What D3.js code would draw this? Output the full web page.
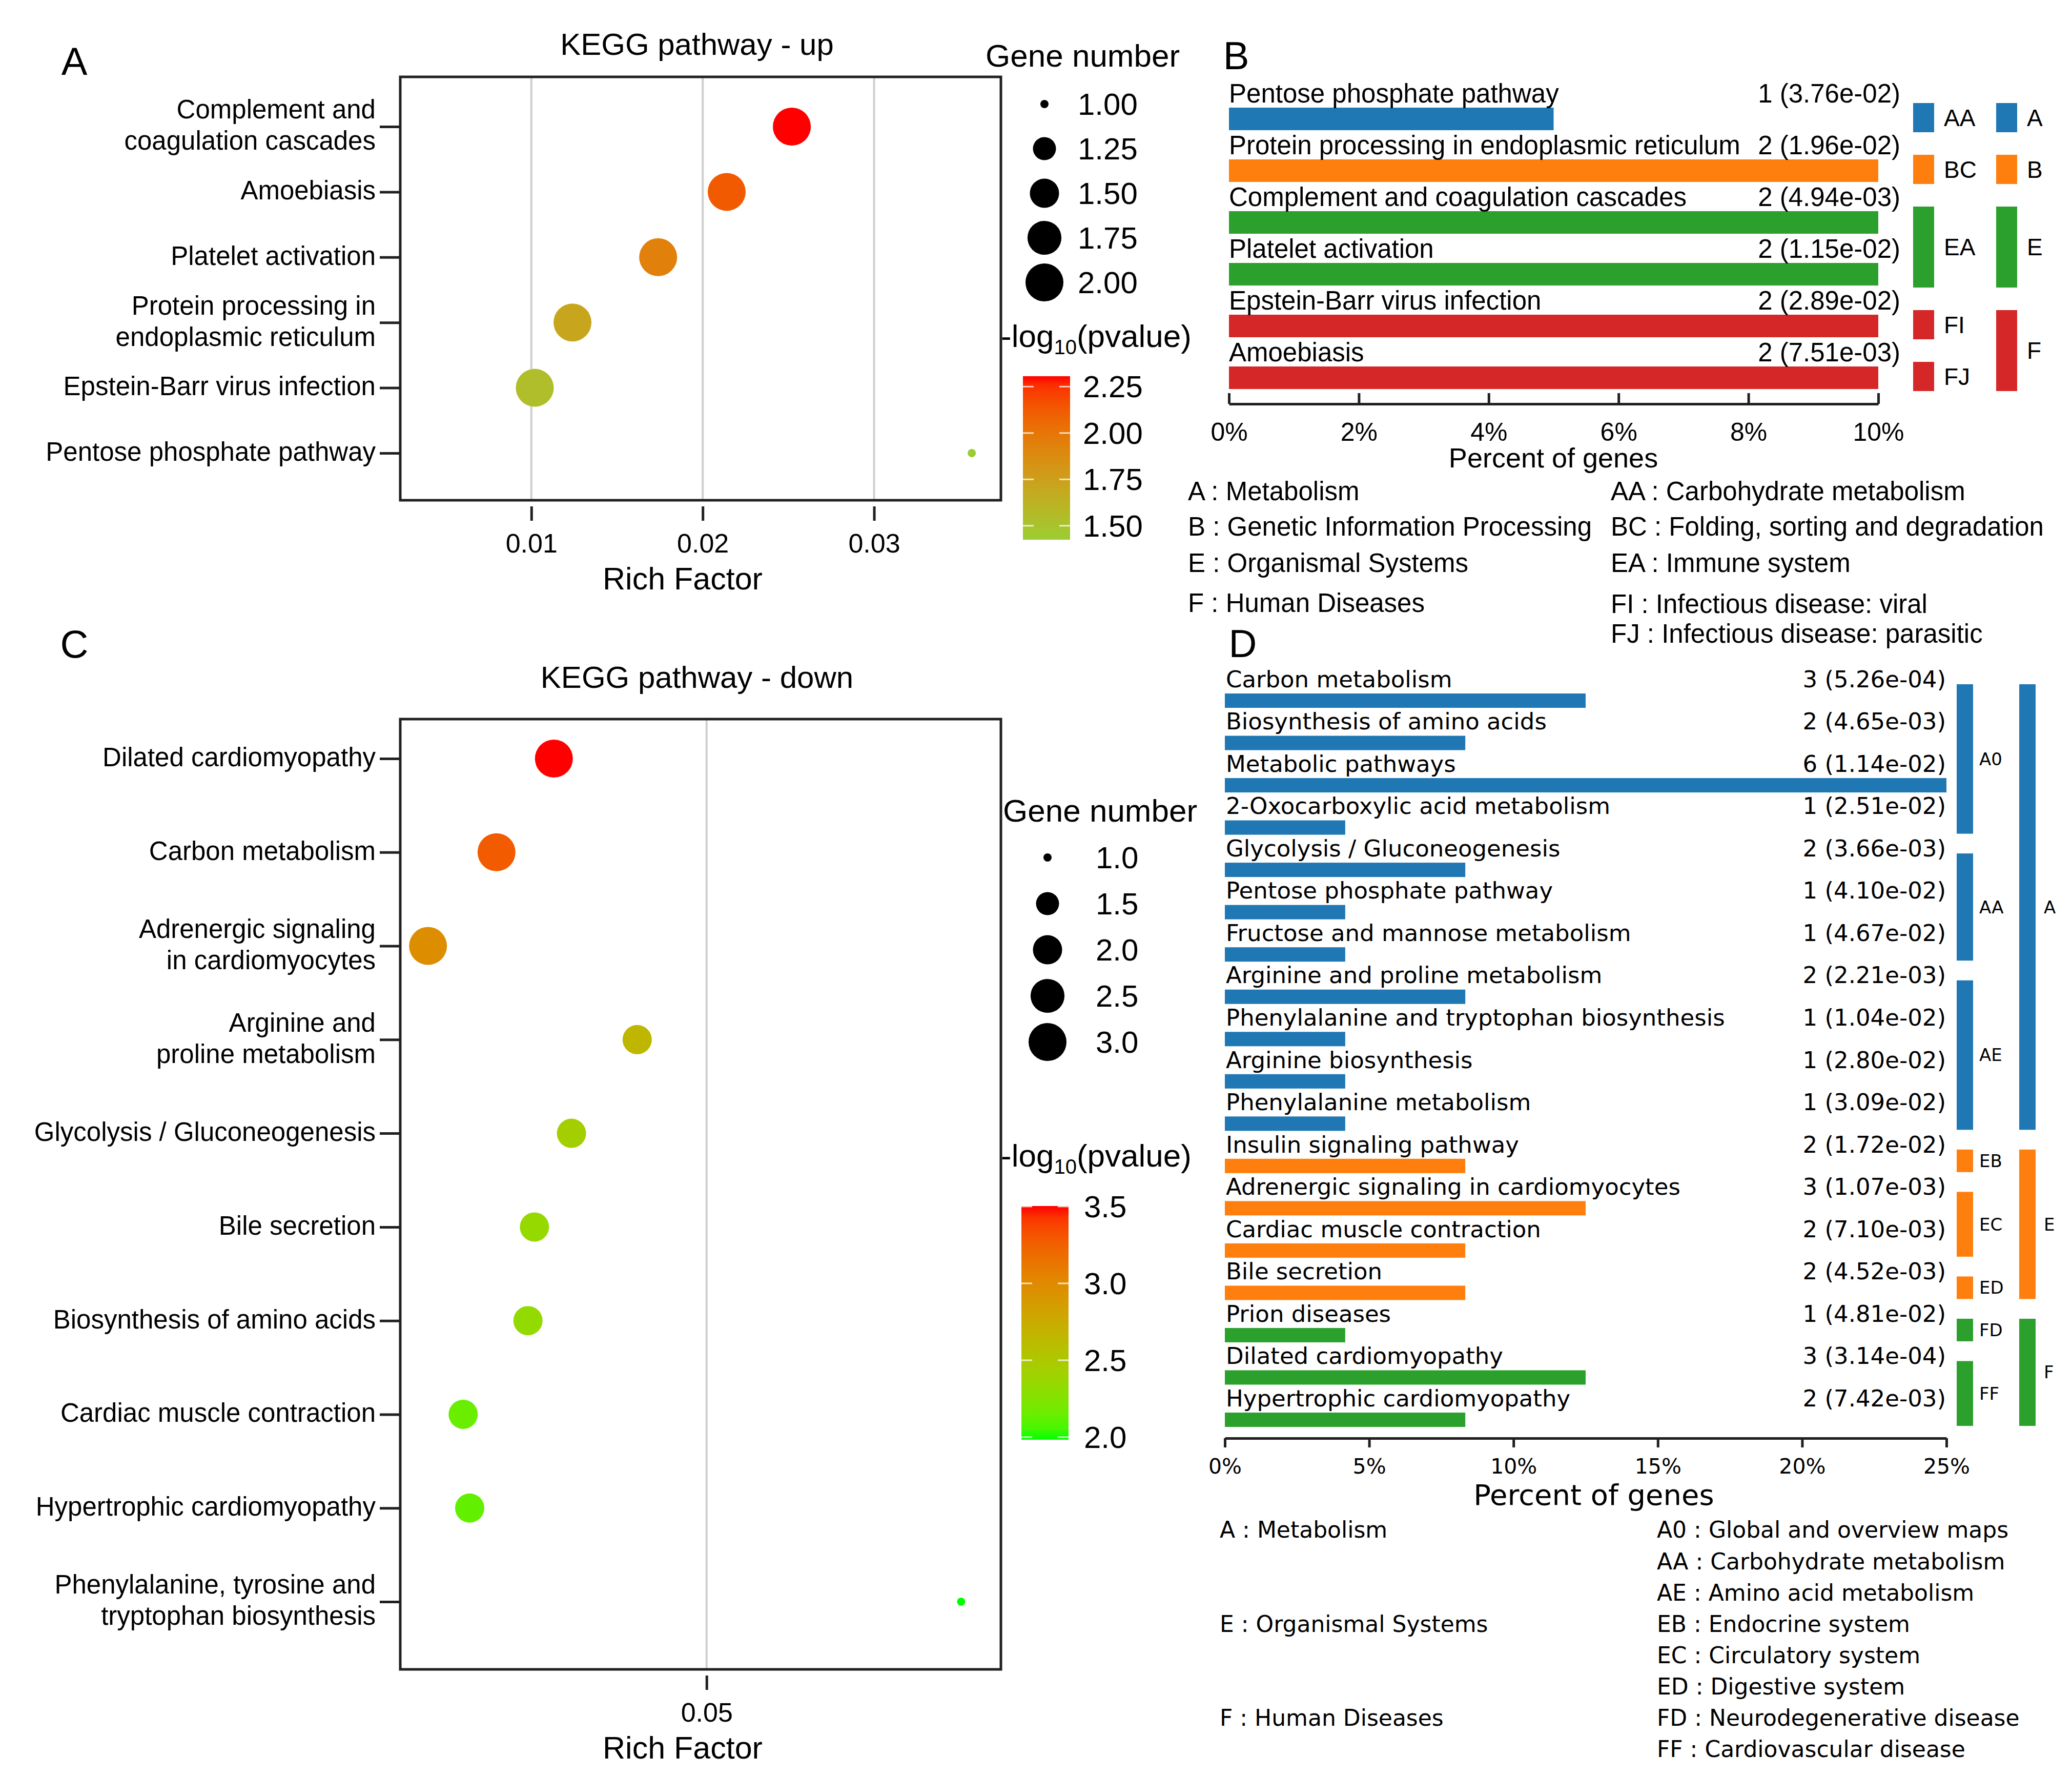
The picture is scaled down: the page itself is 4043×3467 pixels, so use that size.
<!DOCTYPE html>
<html><head><meta charset="utf-8">
<script src="https://cdn.jsdelivr.net/npm/d3@7"></script>
<style>body{margin:0;background:#fff} svg{display:block}</style>
</head><body>
<svg id="chart" width="4043" height="3467"></svg>
<script>
// ================= DATA =================
// Panel A : KEGG pathway - up (bubble plot)
const upPathways = ["Complement and coagulation cascades", "Amoebiasis", "Platelet activation",
  "Protein processing in endoplasmic reticulum", "Epstein-Barr virus infection", "Pentose phosphate pathway"];
const upLabelLines = [["Complement and", "coagulation cascades"], ["Amoebiasis"], ["Platelet activation"],
  ["Protein processing in", "endoplasmic reticulum"], ["Epstein-Barr virus infection"], ["Pentose phosphate pathway"]];
const upRichFactor = [0.0252, 0.0214, 0.0174, 0.0124, 0.0102, 0.0357];
const upGeneNumber = [2, 2, 2, 2, 2, 1];
const upPValue = [4.94e-3, 7.51e-3, 1.15e-2, 1.96e-2, 2.89e-2, 3.76e-2];
const upRichTicks = [0.01, 0.02, 0.03];
const upSizeLegend = [1.00, 1.25, 1.50, 1.75, 2.00];
const upColorTicks = [1.50, 1.75, 2.00, 2.25];

// Panel C : KEGG pathway - down (bubble plot)
const downPathways = ["Dilated cardiomyopathy", "Carbon metabolism", "Adrenergic signaling in cardiomyocytes",
  "Arginine and proline metabolism", "Glycolysis / Gluconeogenesis", "Bile secretion",
  "Biosynthesis of amino acids", "Cardiac muscle contraction", "Hypertrophic cardiomyopathy",
  "Phenylalanine, tyrosine and tryptophan biosynthesis"];
const downLabelLines = [["Dilated cardiomyopathy"], ["Carbon metabolism"], ["Adrenergic signaling", "in cardiomyocytes"],
  ["Arginine and", "proline metabolism"], ["Glycolysis / Gluconeogenesis"], ["Bile secretion"],
  ["Biosynthesis of amino acids"], ["Cardiac muscle contraction"], ["Hypertrophic cardiomyopathy"],
  ["Phenylalanine, tyrosine and", "tryptophan biosynthesis"]];
const downRichFactor = [0.0335, 0.0273, 0.0199, 0.0425, 0.0354, 0.0314, 0.0307, 0.0237, 0.0244, 0.0775];
const downGeneNumber = [3, 3, 3, 2, 2, 2, 2, 2, 2, 1];
const downPValue = [3.14e-4, 5.26e-4, 1.07e-3, 2.21e-3, 3.66e-3, 4.52e-3, 4.65e-3, 7.10e-3, 7.42e-3, 1.04e-2];
const downRichTicks = [0.05];
const downSizeLegend = [1.0, 1.5, 2.0, 2.5, 3.0];
const downColorTicks = [2.0, 2.5, 3.0, 3.5];

// Panel B : classification of up pathways
const bPathways = ["Pentose phosphate pathway", "Protein processing in endoplasmic reticulum",
  "Complement and coagulation cascades", "Platelet activation", "Epstein-Barr virus infection", "Amoebiasis"];
const bGenes = [1, 2, 2, 2, 2, 2];
const bPercent = [5, 10, 10, 10, 10, 10];
const bPLabel = ["3.76e-02", "1.96e-02", "4.94e-03", "1.15e-02", "2.89e-02", "7.51e-03"];
const bLevel1 = ["A", "B", "E", "E", "F", "F"];
const bLevel2 = ["AA", "BC", "EA", "EA", "FI", "FJ"];
const bTicks = [0, 2, 4, 6, 8, 10];
const bLegendLeft = ["A : Metabolism", "B : Genetic Information Processing", "E : Organismal Systems", "F : Human Diseases"];
const bLegendRight = ["AA : Carbohydrate metabolism", "BC : Folding, sorting and degradation", "EA : Immune system",
  "FI : Infectious disease: viral", "FJ : Infectious disease: parasitic"];

// Panel D : classification of down pathways
const dPathways = ["Carbon metabolism", "Biosynthesis of amino acids", "Metabolic pathways",
  "2-Oxocarboxylic acid metabolism", "Glycolysis / Gluconeogenesis", "Pentose phosphate pathway",
  "Fructose and mannose metabolism", "Arginine and proline metabolism", "Phenylalanine and tryptophan biosynthesis",
  "Arginine biosynthesis", "Phenylalanine metabolism", "Insulin signaling pathway",
  "Adrenergic signaling in cardiomyocytes", "Cardiac muscle contraction", "Bile secretion", "Prion diseases",
  "Dilated cardiomyopathy", "Hypertrophic cardiomyopathy"];
const dGenes = [3, 2, 6, 1, 2, 1, 1, 2, 1, 1, 1, 2, 3, 2, 2, 1, 3, 2];
const dPercent = [12.5, 8.33, 25, 4.17, 8.33, 4.17, 4.17, 8.33, 4.17, 4.17, 4.17, 8.33, 12.5, 8.33, 8.33, 4.17, 12.5, 8.33];
const dPLabel = ["5.26e-04", "4.65e-03", "1.14e-02", "2.51e-02", "3.66e-03", "4.10e-02", "4.67e-02", "2.21e-03",
  "1.04e-02", "2.80e-02", "3.09e-02", "1.72e-02", "1.07e-03", "7.10e-03", "4.52e-03", "4.81e-02", "3.14e-04", "7.42e-03"];
const dLevel1 = ["A","A","A","A","A","A","A","A","A","A","A","E","E","E","E","F","F","F"];
const dLevel2 = ["A0","A0","A0","A0","AA","AA","AA","AE","AE","AE","AE","EB","EC","EC","ED","FD","FF","FF"];
const dTicks = [0, 5, 10, 15, 20, 25];
const dLegendLeft = ["A : Metabolism", "E : Organismal Systems", "F : Human Diseases"];
const dLegendRight = ["A0 : Global and overview maps", "AA : Carbohydrate metabolism", "AE : Amino acid metabolism",
  "EB : Endocrine system", "EC : Circulatory system", "ED : Digestive system",
  "FD : Neurodegenerative disease", "FF : Cardiovascular disease"];

// ================= STYLE / LAYOUT =================
const FONT = "'Liberation Sans', Arial, Helvetica, sans-serif";
const FONT_D = "'DejaVu Sans', Verdana, sans-serif";
const INK = "#231f20";
const L = { boxX0: 781, boxX1: 1953, rMin: 8, rMax: 37 };

const svg = d3.select("#chart");
svg.append("rect").attr("width", 4043).attr("height", 3467).attr("fill", "#fff");
const defs = svg.append("defs");

function txt(g, x, y, s, size, opts = {}) {
  return g.append("text").attr("x", x).attr("y", y).attr("dy", "0.35em")
    .attr("font-size", size).attr("font-family", opts.family || FONT)
    .attr("text-anchor", opts.anchor || "start").attr("fill", "#000").text(s);
}

function runs(arr) {
  const out = [];
  arr.forEach((v, i) => {
    if (out.length && out[out.length - 1].key === v) out[out.length - 1].end = i;
    else out.push({ key: v, start: i, end: i });
  });
  return out;
}

// ---------- bubble panel ----------
function dotPanel(o) {
  const g = svg.append("g");
  const x = d3.scaleLinear().domain(o.xDomain).range([L.boxX0, L.boxX1]);
  const y = d3.scalePoint().domain(o.names).range(o.yRange);
  const nl = o.pvals.map(p => -Math.log10(p));
  const cDom = d3.extent(nl);
  const color = d3.scaleLinear().domain(cDom).range([o.lowColor, "#ff0000"]).interpolate(d3.interpolateLab);
  const tScale = d3.scaleLinear().domain(d3.extent(o.genes)).range([0, 1]);
  const rad = v => L.rMin + (L.rMax - L.rMin) * Math.sqrt(Math.max(0, tScale(v)));

  // title
  txt(g, 1360, o.titleY, o.title, 60, { anchor: "middle" });

  // grid
  g.append("g").selectAll("line").data(o.xTicks).join("line")
    .attr("x1", d => x(d)).attr("x2", d => x(d)).attr("y1", o.boxY0).attr("y2", o.boxY1)
    .attr("stroke", "#cfcfcf").attr("stroke-width", 4);

  // points
  g.append("g").selectAll("circle").data(o.names).join("circle")
    .attr("cx", (d, i) => x(o.rich[i])).attr("cy", d => y(d))
    .attr("r", (d, i) => rad(o.genes[i])).attr("fill", (d, i) => color(nl[i]));

  // box
  g.append("rect").attr("x", L.boxX0).attr("y", o.boxY0)
    .attr("width", L.boxX1 - L.boxX0).attr("height", o.boxY1 - o.boxY0)
    .attr("fill", "none").attr("stroke", INK).attr("stroke-width", 5);

  // x axis
  const xa = g.append("g").attr("transform", `translate(0,${o.boxY1 + 12})`)
    .call(d3.axisBottom(x).tickValues(o.xTicks).tickFormat(d3.format(".2f")).tickSizeInner(28).tickSizeOuter(0));
  xa.select(".domain").remove();
  xa.selectAll(".tick line").attr("stroke", INK).attr("stroke-width", 5);
  xa.selectAll(".tick text").attr("y", 72).attr("dy", "0.35em").attr("font-size", 52)
    .attr("font-family", FONT).attr("fill", "#000");
  txt(g, 1332, o.boxY1 + 153, "Rich Factor", 61, { anchor: "middle" });

  // y axis
  const ya = g.append("g").attr("transform", `translate(${L.boxX0},0)`)
    .call(d3.axisLeft(y).tickSizeInner(40).tickSizeOuter(0).tickFormat(""));
  ya.select(".domain").remove();
  ya.selectAll(".tick line").attr("stroke", INK).attr("stroke-width", 5);
  o.names.forEach((n, i) => {
    const lines = o.lines[i];
    lines.forEach((s, k) => txt(g, L.boxX0 - 48, y(n) + (k - (lines.length - 1) / 2) * 61 - 3, s, 51, { anchor: "end" }));
  });

  // size legend
  txt(g, o.sizeTitleX, o.sizeTitleY, "Gene number", 62);
  o.sizeLegend.forEach((v, i) => {
    const cy = o.legY0 + i * o.legStep;
    g.append("circle").attr("cx", o.legCX).attr("cy", cy).attr("r", rad(v)).attr("fill", "#000");
    txt(g, o.legLX, cy, d3.format(o.sizeFmt)(v), 60);
  });

  // colour legend
  const t = g.append("text").attr("x", L.boxX1).attr("y", o.colTitleY).attr("dy", "0.35em")
    .attr("font-size", 62).attr("font-family", FONT).attr("fill", "#000");
  t.append("tspan").text("-log");
  t.append("tspan").attr("font-size", 40).attr("dy", 14).text("10");
  t.append("tspan").attr("dy", -14).text("(pvalue)");

  const gid = "grad" + o.id;
  const grad = defs.append("linearGradient").attr("id", gid).attr("x1", 0).attr("y1", 1).attr("x2", 0).attr("y2", 0);
  d3.range(0, 1.0001, 0.05).forEach(s => {
    grad.append("stop").attr("offset", s).attr("stop-color", color(cDom[0] + s * (cDom[1] - cDom[0])));
  });
  g.append("rect").attr("x", o.cbX).attr("y", o.cbY0).attr("width", 92).attr("height", o.cbY1 - o.cbY0)
    .attr("fill", `url(#${gid})`);
  const cy = d3.scaleLinear().domain(cDom).range([o.cbY1, o.cbY0]);
  o.colorTicks.forEach(v => {
    [[o.cbX, o.cbX + 21], [o.cbX + 71, o.cbX + 92]].forEach(([a, b]) =>
      g.append("line").attr("x1", a).attr("x2", b).attr("y1", cy(v)).attr("y2", cy(v))
        .attr("stroke", "#ffffff").attr("stroke-opacity", 0.75).attr("stroke-width", 3));
    txt(g, o.cbLX, cy(v), d3.format(o.colorFmt)(v), 60);
  });
}

// ---------- classification bar panel ----------
function barPanel(o) {
  const g = svg.append("g");
  const x = d3.scaleLinear().domain([0, o.xMax]).range([o.x0, o.x1]);
  const y = d3.scalePoint().domain(d3.range(o.names.length)).range(o.yRange);
  const col = d => o.colors[d];

  g.append("g").selectAll("rect").data(o.names).join("rect")
    .attr("x", x(0)).attr("y", (d, i) => y(i) - o.barH / 2)
    .attr("width", (d, i) => x(o.percent[i]) - x(0)).attr("height", o.barH)
    .attr("fill", (d, i) => col(o.level1[i]));

  o.names.forEach((n, i) => {
    txt(g, o.nameX, y(i) - o.nameOff, n, o.fs, { family: o.font });
    txt(g, o.valX, y(i) - o.nameOff, `${o.genes[i]} (${o.plabel[i]})`, o.fs, { family: o.font, anchor: "end" });
  });

  const xa = g.append("g").attr("transform", `translate(0,${o.axisY})`)
    .call(d3.axisBottom(x).tickValues(o.ticks).tickFormat(d => d + "%").tickSizeInner(o.tickLen).tickSizeOuter(0));
  xa.select(".domain").attr("stroke", INK).attr("stroke-width", 5);
  xa.selectAll(".tick line").attr("stroke", INK).attr("stroke-width", 5);
  xa.selectAll(".tick text").attr("y", o.tickLabelOff).attr("dy", "0.35em").attr("font-size", o.tickFs)
    .attr("font-family", o.font).attr("fill", "#000");
  txt(g, o.xTitleX, o.xTitleY, "Percent of genes", o.xTitleFs, { family: o.font, anchor: "middle" });

  // hierarchy blocks
  [[o.level2, o.b2x, o.b2lx], [o.level1, o.b1x, o.b1lx]].forEach(([lv, bx, lx]) => {
    runs(lv).forEach(r => {
      const y0 = y(r.start) - o.bTop, y1 = y(r.end) + o.bBot;
      g.append("rect").attr("x", bx).attr("y", y0).attr("width", o.bW).attr("height", y1 - y0)
        .attr("fill", col(o.level1[r.start]));
      txt(g, lx, (y0 + y1) / 2, r.key, o.bFs, { family: o.font });
    });
  });

  // legends
  o.legLeft.forEach((s, i) => txt(g, o.legLX, o.legLeftY[i], s, o.legFs, { family: o.font }));
  o.legRight.forEach((s, i) => txt(g, o.legRX, o.legRightY[i], s, o.legFs, { family: o.font }));
}

// ================= DRAW =================
// panel letters
[["A", 145, 119], ["B", 2412, 108], ["C", 145, 1256], ["D", 2425, 1255]].forEach(([s, px, py]) =>
  txt(svg, px, py, s, 76, { anchor: "middle" }));

dotPanel({
  id: "A", title: "KEGG pathway - up", titleY: 86,
  names: upPathways, lines: upLabelLines, rich: upRichFactor, genes: upGeneNumber, pvals: upPValue,
  xDomain: [0.00235, 0.0374], xTicks: upRichTicks,
  boxY0: 150, boxY1: 976, yRange: [247, 884],
  lowColor: "#9acd32",
  sizeTitleX: 1923, sizeTitleY: 108, sizeLegend: upSizeLegend, sizeFmt: ".2f",
  legCX: 2038, legLX: 2103, legY0: 203, legStep: 87,
  colTitleY: 655, cbX: 1996, cbY0: 734, cbY1: 1053, cbLX: 2113,
  colorTicks: upColorTicks, colorFmt: ".2f"
});

dotPanel({
  id: "C", title: "KEGG pathway - down", titleY: 1321,
  names: downPathways, lines: downLabelLines, rich: downRichFactor, genes: downGeneNumber, pvals: downPValue,
  xDomain: [0.0169, 0.0818], xTicks: downRichTicks,
  boxY0: 1403, boxY1: 3257, yRange: [1480, 3125],
  lowColor: "#00ff00",
  sizeTitleX: 1957, sizeTitleY: 1581, sizeLegend: downSizeLegend, sizeFmt: ".1f",
  legCX: 2044, legLX: 2138, legY0: 1673, legStep: 90,
  colTitleY: 2254, cbX: 1993, cbY0: 2353, cbY1: 2809, cbLX: 2115,
  colorTicks: downColorTicks, colorFmt: ".1f"
});

barPanel({
  names: bPathways, genes: bGenes, percent: bPercent, plabel: bPLabel, level1: bLevel1, level2: bLevel2,
  colors: { A: "#1f77b4", B: "#ff7f0e", E: "#2ca02c", F: "#d62728" },
  xMax: 10, x0: 2398, x1: 3665, yRange: [232, 737], barH: 44,
  font: FONT, fs: 51, nameX: 2398, valX: 3708, nameOff: 50,
  axisY: 788, ticks: bTicks, tickLen: -21, tickLabelOff: 54, tickFs: 50,
  xTitleX: 3031, xTitleY: 893, xTitleFs: 54,
  b2x: 3733, b2lx: 3793, b1x: 3895, b1lx: 3955, bW: 41, bTop: 31, bBot: 26, bFs: 46,
  legLeft: bLegendLeft, legRight: bLegendRight, legLX: 2318, legRX: 3143, legFs: 51,
  legLeftY: [958, 1027, 1098, 1176], legRightY: [958, 1027, 1098, 1178, 1236]
});

const dRowY = d3.range(8).map(i => 2985 + i * 61.1);
barPanel({
  names: dPathways, genes: dGenes, percent: dPercent, plabel: dPLabel, level1: dLevel1, level2: dLevel2,
  colors: { A: "#1f77b4", E: "#ff7f0e", F: "#2ca02c" },
  xMax: 25, x0: 2390, x1: 3798, yRange: [1367, 2770], barH: 28,
  font: FONT_D, fs: 45, nameX: 2392, valX: 3797, nameOff: 42,
  axisY: 2806, ticks: dTicks, tickLen: 18, tickLabelOff: 55, tickFs: 41,
  xTitleX: 3110, xTitleY: 2916, xTitleFs: 56,
  b2x: 3818, b2lx: 3862, b1x: 3940, b1lx: 3988, bW: 32, bTop: 32, bBot: 12, bFs: 34,
  legLeft: dLegendLeft, legRight: dLegendRight, legLX: 2380, legRX: 3233, legFs: 44,
  legLeftY: [dRowY[0], dRowY[3], dRowY[6]], legRightY: dRowY
});
</script>
</body></html>
